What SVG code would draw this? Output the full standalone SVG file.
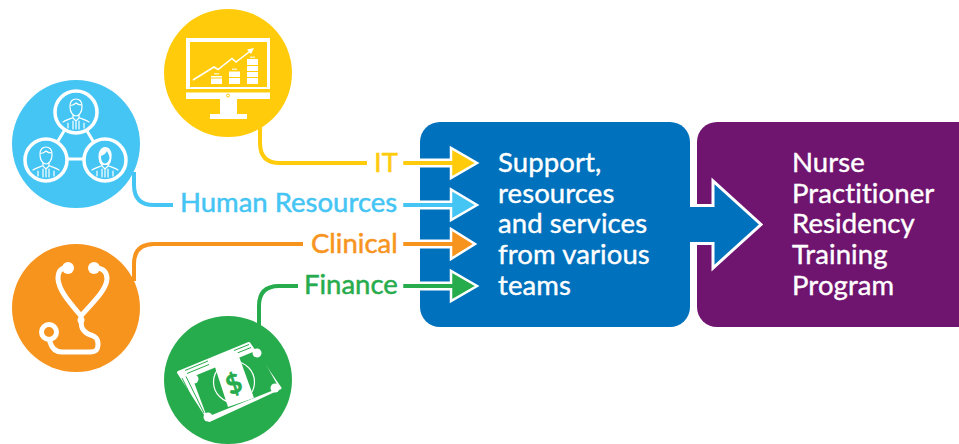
<svg xmlns="http://www.w3.org/2000/svg" width="959" height="444" viewBox="0 0 959 444">
<style>
text{font-family:"Lato","Noto Sans","Liberation Sans",sans-serif}
.lbl{font-size:27.500px;stroke-width:.5px}
.box{font-size:27.500px;fill:#fff;stroke:#fff;stroke-width:.4px;letter-spacing:.1px}
.f{fill:#fff}
.wt{fill:none;stroke:#fff;stroke-width:1.200;stroke-linecap:round;stroke-linejoin:round}
.ring{fill:none;stroke:#fff;stroke-width:3.500}
.c{fill:none;stroke-width:4}
.h{stroke:#fff;stroke-width:2.500;stroke-linejoin:miter}
</style>
<defs>
<path id="body" class="wt" d="M-3 3V6L0 9L3 6V3M-13 10C-10 8 -6 7 -3 5.500M13 10C10 8 6 7 3 5.500M-3 9V17M3 9V17M0 9V17M-8 11V16M8 11V16"/>
<g id="man"><path class="wt" d="M-6 -5C-6.500 -11 -3 -13 0 -13C3 -13 6.500 -11 6 -5C6 0 3 4 0 4C-3 4 -6 0 -6 -5ZM-6 -7C-3 -6 -1 -8 0 -9C2 -7 4 -7 6 -7"/><use href="#body"/></g>
<g id="woman"><path class="f" d="M-6 1C-8 -8 -4 -13 0 -13C5 -13 8 -8 6 1C5 4 4 5 3 5H-3C-4 5 -5 4 -6 1Z"/><path d="M-4 -4C-1 -5 1 -7 2 -9C3 -7 4 -5 4.500 -3C4.500 1 2 3.500 0 3.500C-2 3.500 -4 1 -4 -4Z" fill="#45c5f4"/><use href="#body"/></g>
</defs>
<g id="connectors">
<path class="c" stroke="#ffcb0b" d="M260 125V143Q260 163 280 163H367"/>
<path class="c" stroke="#45c5f4" d="M134 172V185Q134 205 154 205H173"/>
<path class="c" stroke="#f7941e" d="M134 281V264Q134 244 154 244H303"/>
<path class="c" stroke="#27ac4d" d="M259 326V306Q259 286 279 286H298"/>
</g>
<g id="support"><rect x="420" y="122" width="270" height="205" rx="20" fill="#0071bc"/></g>
<g id="program">
<rect x="697" y="122" width="290" height="205" rx="20" fill="#6f146f"/>
<text class="box" x="792" y="172">Nurse</text>
<text class="box" x="792" y="202.500">Practitioner</text>
<text class="box" x="792" y="233">Residency</text>
<text class="box" x="792" y="264">Training</text>
<text class="box" x="792" y="295">Program</text>
</g>
<g id="flow-arrow">
<path d="M688 205.500H713V181L761 224.500L713 268V243.500H688Z" fill="#0071bc"/>
<path d="M690 205.500H713V181L761 224.500L713 268V243.500H690" fill="none" stroke="#fff" stroke-width="3"/>
</g>
<g id="support-text">
<text class="box" x="498" y="172">Support,</text>
<text class="box" x="498" y="202.500">resources</text>
<text class="box" x="498" y="233">and services</text>
<text class="box" x="498" y="264">from various</text>
<text class="box" x="498" y="295">teams</text>
</g>
<g id="it">
<circle cx="228" cy="73" r="64" fill="#ffcb0b"/>
<path class="f" d="M220 99H237V114H247V119H210V114H220Z"/>
<path class="f" fill-rule="evenodd" d="M186 38H270V99H186ZM190 42V87H267V42Z"/>
<path class="f" d="M267.500 42H268.500V87H267.500Z"/>
<path fill="#ffcb0b" d="M186 89H270V92.500H186Z"/>
<circle cx="228" cy="95.500" r="1.500" fill="none" stroke="#ffcb0b"/>
<path d="M193 80L214 67L218 69.500L232 58.500L236 62L251 50.500" fill="none" stroke="#fff" stroke-width="1.500"/>
<path class="f" d="M254 48L247 49.500L251 54Z"/>
<path class="f" d="M211 76H222V77.500H211ZM211 78.500H222V84H211ZM229 71.500H240V77H229ZM229 78H240V84H229ZM247 59H258V65H247ZM247 66H258V71H247ZM247 72H258V77H247ZM247 78H258V84H247Z"/>
<path class="f" opacity=".7" d="M214 73H219V74.500H214ZM232 68.500H237V70H232ZM250 56.500H255V58H250Z"/>
</g>
<g id="hr">
<circle cx="76" cy="144" r="64" fill="#45c5f4"/>
<path d="M64 131L58 141M87 131L93 141M68 159H84" fill="none" stroke="#fff" stroke-width="3"/>
<circle class="ring" cx="76" cy="112" r="21"/>
<circle class="ring" cx="46" cy="160" r="21"/>
<circle class="ring" cx="105" cy="160" r="21"/>
<use href="#man" transform="translate(76 112)"/>
<use href="#man" transform="translate(46 160)"/>
<use href="#woman" transform="translate(105 160)"/>
</g>
<g id="clinical">
<circle cx="76" cy="308" r="64" fill="#f7941e"/>
<path d="M66 268C60 268 58 272 58 279C59 291 70 303 81 316M96 268C103 268 107 272 107 279C106 291 92 303 81 316C81 326 81 330 88 334C95 336 98 338 98 344C98 350 96 352 90 352H62C56 352 52 349 50 342" fill="none" stroke="#fff" stroke-width="5" stroke-linecap="round"/>
<circle cx="68" cy="268" r="6" fill="#fff"/>
<circle cx="94" cy="268" r="6" fill="#fff"/>
<circle cx="81" cy="320" r="3.500" fill="#fff"/>
<circle cx="49" cy="332" r="7.500" fill="none" stroke="#fff" stroke-width="5"/>
</g>
<g id="finance">
<circle cx="228" cy="380" r="64" fill="#27ac4d"/>
<path class="f" stroke="#fff" stroke-width="3" stroke-linejoin="round" d="M178.500 372.500L249 343.500L280 388L209.500 420.500Z"/>
<path fill="#27ac4d" d="M192 377L258 350L279 388L207 417Z"/>
<circle cx="194" cy="379" r="4.500" fill="#fff"/>
<circle cx="257" cy="353" r="4.500" fill="#fff"/>
<circle cx="275" cy="388" r="4.500" fill="#fff"/>
<circle cx="208" cy="417" r="4.500" fill="#fff"/>
<path d="M185 370.500L208 361M187 373.500L209 364.500M234 350.500L249 344.500M236 353.500L251 347.500M182 378L201 416M186 376.500L204 413" fill="none" stroke="#27ac4d" stroke-width="1"/>
<circle cx="234" cy="382" r="20.500" fill="none" stroke="#fff" stroke-width="1.200"/>
<path class="f" d="M213 361L237 351L254 398L228 407Z"/>
<text x="234" y="393" font-size="26" text-anchor="middle" fill="#27ac4d" stroke="#27ac4d" stroke-width=".6" transform="rotate(-22 234 384)" style="font-weight:700">$</text>
</g>
<g id="labels">
<text class="lbl" x="374" y="172" fill="#ffcb0b" stroke="#ffcb0b">IT</text>
<text class="lbl" x="180" y="212" fill="#45c5f4" stroke="#45c5f4">Human Resources</text>
<text class="lbl" x="311" y="253" fill="#f7941e" stroke="#f7941e">Clinical</text>
<text class="lbl" x="304" y="294" fill="#27ac4d" stroke="#27ac4d">Finance</text>
</g>
<g id="small-arrows">
<path class="h" fill="#ffcb0b" d="M402 159.700H451V148L477 163L451 178V166.300H402Z"/>
<path class="h" fill="#45c5f4" d="M402 201.700H451V189.500L477 205L451 220V208.300H402Z"/>
<path class="h" fill="#f7941e" d="M402 240.700H451V229L475 244L451 259V247.300H402Z"/>
<path class="h" fill="#27ac4d" d="M402 282.700H451V271L477 286L451 301V289.300H402Z"/>
</g>
</svg>
